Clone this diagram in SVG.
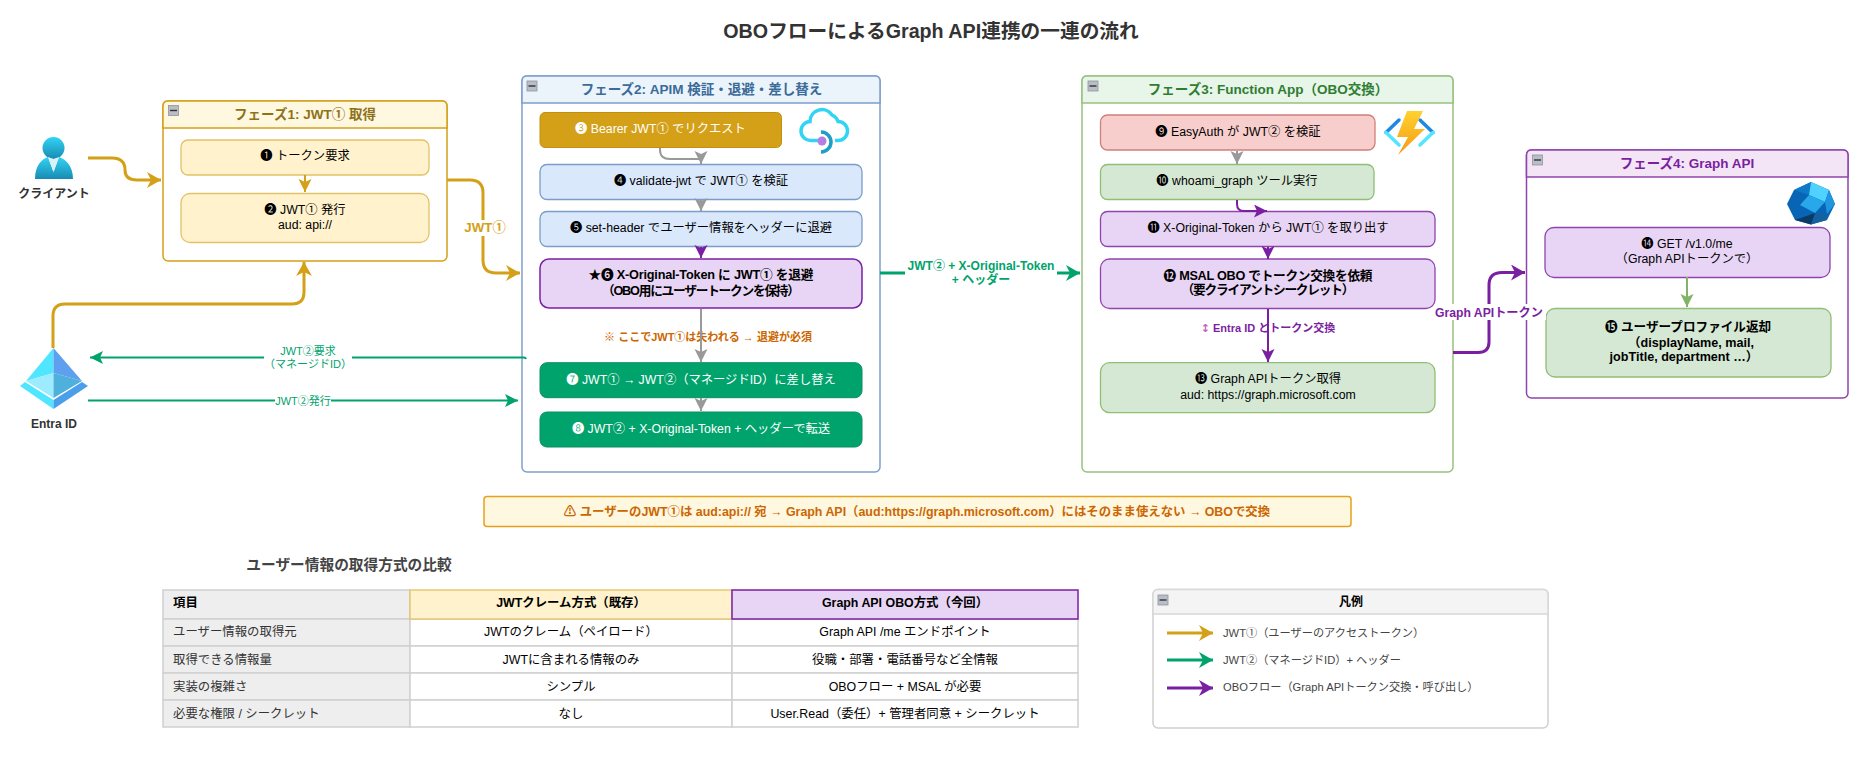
<svg xmlns="http://www.w3.org/2000/svg" width="1871" height="766" viewBox="0 0 1871 766">
<style>
text{font-family:"Liberation Sans","Noto Sans CJK JP",sans-serif;font-size:12.3px;text-anchor:middle;fill:#000}
.b{font-weight:bold}.w{fill:#fff}.t{font-size:13.5px;font-weight:bold}
.tbl{font-size:12.4px}.l{text-anchor:start}
.p1{fill:#fff;stroke:#d4a017;stroke-width:1.5}.p1h{fill:#fff8e1;stroke:#d4a017;stroke-width:1.5}
.p2{fill:#fff;stroke:#7f9fcb;stroke-width:1.5}.p2h{fill:#ebf3fb;stroke:#7f9fcb;stroke-width:1.5}
.p3{fill:#fff;stroke:#97c17e;stroke-width:1.5}.p3h{fill:#e8f5e9;stroke:#97c17e;stroke-width:1.5}
.p4{fill:#fff;stroke:#8e44ad;stroke-width:1.5}.p4h{fill:#f3e5f5;stroke:#8e44ad;stroke-width:1.5}
.y{fill:#fff2cc;stroke:#e2c267;stroke-width:1.3}.bl{fill:#dae8fc;stroke:#7c9cc9;stroke-width:1.3}
.pu{fill:#e8d5f5;stroke:#8e44ad;stroke-width:1.3}.pu2{fill:#e8d5f5;stroke:#7b1fa2;stroke-width:1.5}
.gr{fill:#d5e8d4;stroke:#92bd74;stroke-width:1.3}.re{fill:#f8cecc;stroke:#cf7f7c;stroke-width:1.3}
.g2{fill:#00a36c;stroke:#0b8f62;stroke-width:1}.gd{fill:#d4a017;stroke:#c09010;stroke-width:1}
.c{fill:none;stroke-width:3}.cg{stroke:#d4a017}.cj{stroke:#00a36c}.cp{stroke:#7b1fa2}
.t1{fill:none;stroke-width:2}.lab{fill:#fff}
.cell{fill:#fff;stroke:#d0d0d0;stroke-width:1.5}.cellh{fill:#eeeeee;stroke:#d0d0d0;stroke-width:1.5}
.min{fill:#b9bdc6;stroke:#8f93a0;stroke-width:.8}
</style>
<defs>
<marker id="ag" markerUnits="userSpaceOnUse" markerWidth="16" markerHeight="18" refX="14" refY="8" orient="auto"><path d="M0 0L14 8L0 16L4 8Z" fill="#d4a017"/></marker>
<marker id="aj" markerUnits="userSpaceOnUse" markerWidth="16" markerHeight="18" refX="14" refY="8" orient="auto"><path d="M0 0L14 8L0 16L4 8Z" fill="#00a36c"/></marker>
<marker id="ap" markerUnits="userSpaceOnUse" markerWidth="16" markerHeight="18" refX="14" refY="8" orient="auto"><path d="M0 0L14 8L0 16L4 8Z" fill="#7b1fa2"/></marker>
<marker id="ay" markerUnits="userSpaceOnUse" markerWidth="15" markerHeight="15" refX="13" refY="6.500" orient="auto"><path d="M0 0L13 6.500L0 13L3 6.500Z" fill="#d4a017"/></marker>
<marker id="ae" markerUnits="userSpaceOnUse" markerWidth="15" markerHeight="15" refX="13" refY="6.500" orient="auto"><path d="M0 0L13 6.500L0 13L3 6.500Z" fill="#999"/></marker>
<marker id="aq" markerUnits="userSpaceOnUse" markerWidth="15" markerHeight="15" refX="13" refY="6.500" orient="auto"><path d="M0 0L13 6.500L0 13L3 6.500Z" fill="#7b1fa2"/></marker>
<marker id="aa" markerUnits="userSpaceOnUse" markerWidth="15" markerHeight="15" refX="13" refY="6.500" orient="auto"><path d="M0 0L13 6.500L0 13L3 6.500Z" fill="#82b366"/></marker>
<marker id="as" markerUnits="userSpaceOnUse" markerWidth="15" markerHeight="15" refX="13" refY="6.500" orient="auto"><path d="M0 0L13 6.500L0 13L3 6.500Z" fill="#00a36c"/></marker>
<linearGradient id="person" x1="0" y1="0" x2="0" y2="1"><stop offset="0" stop-color="#32d4f5"/><stop offset="1" stop-color="#198ab3"/></linearGradient>
<linearGradient id="fn" x1="0" y1="0" x2="0" y2="1"><stop offset="0" stop-color="#ffd22e"/><stop offset="1" stop-color="#f59a17"/></linearGradient>
</defs>
<text x="931" y="38" class="b" style="font-size:19.700px;fill:#333">OBOフローによるGraph API連携の一連の流れ</text>
<g id="phase1">
<rect class="p1" x="163" y="101" width="284" height="160" rx="5"/>
<path class="p1h" d="M163 128V106Q163 101 168 101H442Q447 101 447 106V128Z"/>
<rect class="min" x="168.500" y="105.500" width="10" height="10"/><path d="M170 110.500H177" stroke="#333" stroke-width="1.400"/>
<text x="305" y="119" class="t" style="fill:#8f7118">フェーズ1: JWT① 取得</text>
</g>
<g id="n1"><rect class="y" x="181" y="140" width="248" height="35" rx="7"/><text x="305" y="160">❶ トークン要求</text></g>
<g id="n2"><rect class="y" x="181" y="193.500" width="248" height="49" rx="9"/><text x="305" y="214">❷ JWT① 発行</text><text x="305" y="228.500">aud: api://</text></g>
<g id="phase2">
<rect class="p2" x="522" y="76" width="358" height="396" rx="5"/>
<path class="p2h" d="M522 103V81Q522 76 527 76H875Q880 76 880 81V103Z"/>
<rect class="min" x="527" y="81" width="10" height="10"/><path d="M528.500 86H535.500" stroke="#333" stroke-width="1.400"/>
<text x="701.500" y="94" class="t" style="fill:#3a6b99">フェーズ2: APIM 検証・退避・差し替え</text>
</g>
<g id="n3"><rect class="gd" x="540" y="112.500" width="241.500" height="35" rx="5"/><text x="660.500" y="133" class="w">❸ Bearer JWT① でリクエスト</text></g>
<g id="n4"><rect class="bl" x="540" y="164.500" width="322" height="35" rx="7"/><text x="701" y="185">❹ validate-jwt で JWT① を検証</text></g>
<g id="n5"><rect class="bl" x="540" y="211.500" width="322" height="35" rx="7"/><text x="701" y="232">❺ set-header でユーザー情報をヘッダーに退避</text></g>
<g id="n6"><rect class="pu2" x="540" y="259" width="322" height="49" rx="9"/><text x="701" y="279" class="b" style="font-size:12.700px" textLength="225" lengthAdjust="spacing">★❻ X-Original-Token に JWT① を退避</text><text x="701" y="294.500" class="b" style="font-size:12.700px" textLength="198" lengthAdjust="spacing">（OBO用にユーザートークンを保持）</text></g>
<text x="708" y="341" class="b" style="font-size:11px;fill:#cc6600">※ ここでJWT①は失われる → 退避が必須</text>
<g id="n7"><rect class="g2" x="540" y="362.700" width="322" height="35" rx="7"/><text x="701" y="384" class="w">❼ JWT① → JWT②（マネージドID）に差し替え</text></g>
<g id="n8"><rect class="g2" x="540" y="412" width="322" height="35" rx="7"/><text x="701" y="433" class="w">❽ JWT② + X-Original-Token + ヘッダーで転送</text></g>
<g id="phase3">
<rect class="p3" x="1082" y="76" width="371" height="396" rx="5"/>
<path class="p3h" d="M1082 103V81Q1082 76 1087 76H1448Q1453 76 1453 81V103Z"/>
<rect class="min" x="1088" y="81" width="10" height="10"/><path d="M1089.500 86H1096.500" stroke="#333" stroke-width="1.400"/>
<text x="1268" y="94" class="t" style="fill:#2e7d32">フェーズ3: Function App（OBO交換）</text>
</g>
<g id="n9"><rect class="re" x="1100.500" y="115" width="274.500" height="35" rx="7"/><text x="1238" y="136">❾ EasyAuth が JWT② を検証</text></g>
<g id="n10"><rect class="gr" x="1100.500" y="164.500" width="273.500" height="35" rx="7"/><text x="1237" y="185">❿ whoami_graph ツール実行</text></g>
<g id="n11"><rect class="pu" x="1100.500" y="211.500" width="334.500" height="35" rx="7"/><text x="1268" y="232">⓫ X-Original-Token から JWT① を取り出す</text></g>
<g id="n12"><rect class="pu" x="1100.500" y="259" width="334.500" height="49.500" rx="9"/><text x="1268" y="279.500" class="b" style="font-size:12.700px" textLength="209" lengthAdjust="spacing">⓬ MSAL OBO でトークン交換を依頼</text><text x="1268" y="294" class="b" style="font-size:12.700px" textLength="173" lengthAdjust="spacing">（要クライアントシークレット）</text></g>
<text x="1268" y="332" class="b" style="font-size:11px;fill:#7b1fa2"><tspan style="font-family:'DejaVu Sans',sans-serif;fill:#c060c0">↕</tspan> Entra ID とトークン交換</text>
<g id="n13"><rect class="gr" x="1100.500" y="362.700" width="334.500" height="50" rx="9"/><text x="1268" y="383">⓭ Graph APIトークン取得</text><text x="1268" y="398.500">aud: https://graph.microsoft.com</text></g>
<g id="phase4">
<rect class="p4" x="1526.500" y="150" width="321.500" height="248" rx="5"/>
<path class="p4h" d="M1526.500 177V155Q1526.500 150 1531.500 150H1843Q1848 150 1848 155V177Z"/>
<rect class="min" x="1532.500" y="155" width="10" height="10"/><path d="M1534 160H1541" stroke="#333" stroke-width="1.400"/>
<text x="1687" y="168" class="t" style="fill:#7b1fa2">フェーズ4: Graph API</text>
</g>
<g id="n14"><rect class="pu" x="1545" y="227.500" width="285" height="50" rx="9"/><text x="1687" y="248">⓮ GET /v1.0/me</text><text x="1687" y="263">（Graph APIトークンで）</text></g>
<g id="n15"><rect class="gr" x="1546" y="308.500" width="285" height="68.500" rx="9"/><text x="1688" y="331" class="b" style="font-size:12.600px">⓯ ユーザープロファイル返却</text><text x="1691" y="346.500" class="b" style="font-size:12.600px">（displayName, mail,</text><text x="1684" y="361" class="b" style="font-size:12.600px">jobTitle, department …）</text></g>
<g id="client"><circle cx="53.500" cy="148" r="11" fill="url(#person)"/><path d="M35 179C35 165 42 159 48 157L53.500 172L59 157C65 159 73 165 73 179Z" fill="url(#person)"/><path d="M48 157L53.500 159L59 157L53.500 172Z" fill="#d8f2fa"/><text x="54" y="198" class="b" style="fill:#333;font-size:12px">クライアント</text></g>
<g id="entra"><path d="M53.500 348L26 381L53.500 373Z" fill="#50e6ff"/><path d="M53.500 348L82 381L53.500 373Z" fill="#5ea0ef"/><path d="M26 381L53.500 373V398Z" fill="#9cebff"/><path d="M82 381L53.500 373V398Z" fill="#50b0dc"/><path d="M20 386L25 382L53.500 400V409Z" fill="#50e6ff"/><path d="M88 386L82 382L53.500 400V409Z" fill="#4a9eea"/><text x="54" y="428" class="b" style="fill:#333;font-size:12px">Entra ID</text></g>
<g id="apim-icon" fill="none"><path d="M819 140.500H811A9.500 9.500 0 0 1 810 121.500A12 12 0 0 1 832 115A11 11 0 0 1 838 121.500A9.500 9.500 0 0 1 838 140.500H832" stroke="#32d4f5" stroke-width="3.500" stroke-linecap="round"/><path d="M822 131.700A10 10 0 0 1 822 152" stroke="#fff" stroke-width="6"/><path d="M821 132A10 10 0 0 1 821 152" stroke="#1f9fc6" stroke-width="3.500"/><circle cx="822" cy="141" r="4.500" fill="#b77ee0"/></g>
<g id="fn-icon"><path d="M1399 120L1386 132.500" fill="none" stroke="#1e88e5" stroke-width="3.500" stroke-linecap="round"/><path d="M1386 132.500L1399 145" fill="none" stroke="#50e6ff" stroke-width="3.500" stroke-linecap="round"/><path d="M1420 120L1433 132.500" fill="none" stroke="#1e88e5" stroke-width="3.500" stroke-linecap="round"/><path d="M1433 132.500L1420 145" fill="none" stroke="#50e6ff" stroke-width="3.500" stroke-linecap="round"/><path d="M1407 111H1423L1414 129H1425L1398 155L1408 137H1397Z" fill="url(#fn)"/></g>
<g id="graph-icon"><path d="M1811 182L1829 190L1835 204L1827 220L1811 224.500L1795 220L1787 204L1794 190Z" fill="#0864b4"/><path d="M1811 182L1794 190L1809 195Z" fill="#0f78c8"/><path d="M1811 182L1829 190L1825 202L1809 195Z" fill="#4fd2ff"/><path d="M1809 195L1825 202L1815 213L1800 205Z" fill="#28a8ea"/><path d="M1825 202L1829 190L1835 204L1827 214Z" fill="#1f96de"/><path d="M1815 213L1827 214L1827 220L1811 224.500Z" fill="#14619f"/><path d="M1795 220L1815 213L1811 224.500Z" fill="#0c3a67"/></g>
<g id="connectors">
<path class="c cg" marker-end="url(#ag)" d="M88 158H112Q125 158 125 170V170Q125 180 137 180H161"/>
<path class="c cg" d="M447 180H470Q483 180 483 193V260Q483 273 496 273H520" marker-end="url(#ag)"/>
<path class="c cg" marker-end="url(#ag)" d="M53 348V316Q53 304 65 304H292Q304 304 304 292V262"/>
<path class="t1 cj" marker-end="url(#as)" d="M526 359Q525.500 357.500 524 357.500H90"/>
<path class="t1 cj" marker-end="url(#as)" d="M88 400.500H518"/>
<path class="c cj" marker-end="url(#aj)" d="M880 273H1080"/>
<path class="c cp" marker-end="url(#ap)" d="M1453 352.500H1478Q1489 352.500 1489 342V285Q1489 272.500 1502 272.500H1525"/>
<path class="t1 cg" marker-end="url(#ay)" d="M305 175V192"/>
<path class="t1" stroke="#999" marker-end="url(#ae)" d="M660 148V150Q660 159 670 159H701V164"/>
<path class="t1" stroke="#999" marker-end="url(#ae)" d="M701 200V211"/>
<path class="t1" stroke="#7b1fa2" marker-end="url(#aq)" d="M701 247V258"/>
<path class="t1" stroke="#999" marker-end="url(#ae)" d="M701 309V362"/>
<path class="t1" stroke="#999" marker-end="url(#ae)" d="M701 398V411"/>
<path class="t1" stroke="#999" marker-end="url(#ae)" d="M1237 151V164"/>
<path class="t1" stroke="#7b1fa2" marker-end="url(#aq)" d="M1237 200V204Q1237 211 1244 211H1267"/>
<path class="t1" stroke="#7b1fa2" marker-end="url(#aq)" d="M1268 247V259"/>
<path class="t1" stroke="#7b1fa2" marker-end="url(#aq)" d="M1268 309V362"/>
<path class="t1" stroke="#82b366" marker-end="url(#aa)" d="M1687 277V307"/>
</g>
<g id="labels">
<rect x="464" y="220" width="42" height="16" class="lab"/><text x="485" y="232" class="b" style="font-size:13.300px;fill:#d4a017">JWT①</text>
<rect x="264" y="344" width="88" height="28" class="lab"/><text x="308" y="355" style="font-size:11px;fill:#00a36c">JWT②要求</text><text x="308" y="368" style="font-size:11px;fill:#00a36c">（マネージドID）</text>
<rect x="275" y="393" width="56" height="14" class="lab"/><text x="303" y="404.500" style="font-size:11px;fill:#00a36c">JWT②発行</text>
<rect x="905" y="256" width="152" height="34" class="lab"/><text x="981" y="270" class="b" style="font-size:12px;fill:#00a36c">JWT② + X-Original-Token</text><text x="981" y="284" class="b" style="font-size:12px;fill:#00a36c">+ ヘッダー</text>
<rect x="1434" y="304" width="112" height="16" class="lab"/><text x="1489" y="317" class="b" style="font-size:12.200px;fill:#7b1fa2">Graph APIトークン</text>
</g>
<g id="alert"><rect x="484" y="496.500" width="867" height="30" rx="3" fill="#fff8e1" stroke="#e5a11b" stroke-width="1.500"/><text x="917" y="516" class="b" style="font-size:12.400px;fill:#cc6600">⚠ ユーザーのJWT①は aud:api:// 宛 → Graph API（aud:https://graph.microsoft.com）にはそのまま使えない → OBOで交換</text></g>
<g id="table">
<text x="349" y="570" class="b" style="font-size:14.700px;fill:#444">ユーザー情報の取得方式の比較</text>
<rect class="cellh" x="163" y="590" width="247" height="29"/><rect class="cellh" x="163" y="619" width="247" height="27"/><rect class="cellh" x="163" y="646" width="247" height="27"/><rect class="cellh" x="163" y="673" width="247" height="27"/><rect class="cellh" x="163" y="700" width="247" height="27"/>
<rect class="cell" x="410" y="619" width="322" height="27"/><rect class="cell" x="410" y="646" width="322" height="27"/><rect class="cell" x="410" y="673" width="322" height="27"/><rect class="cell" x="410" y="700" width="322" height="27"/>
<rect class="cell" x="732" y="619" width="346" height="27"/><rect class="cell" x="732" y="646" width="346" height="27"/><rect class="cell" x="732" y="673" width="346" height="27"/><rect class="cell" x="732" y="700" width="346" height="27"/>
<rect x="410" y="590" width="322" height="29" fill="#fff2cc" stroke="#e2c267" stroke-width="1.300"/><rect x="732" y="590" width="346" height="29" fill="#e8d5f5" stroke="#7b1fa2" stroke-width="1.500"/>
<text x="173" y="607" class="b tbl l">項目</text><text x="571" y="607" class="b tbl">JWTクレーム方式（既存）</text><text x="905" y="607" class="b tbl">Graph API OBO方式（今回）</text>
<text x="173" y="635.500" class="tbl l" style="fill:#333">ユーザー情報の取得元</text><text x="571" y="635.500" class="tbl">JWTのクレーム（ペイロード）</text><text x="905" y="635.500" class="tbl">Graph API /me エンドポイント</text>
<text x="173" y="663.500" class="tbl l" style="fill:#333">取得できる情報量</text><text x="571" y="663.500" class="tbl">JWTに含まれる情報のみ</text><text x="905" y="663.500" class="tbl">役職・部署・電話番号など全情報</text>
<text x="173" y="690.500" class="tbl l" style="fill:#333">実装の複雑さ</text><text x="571" y="690.500" class="tbl">シンプル</text><text x="905" y="690.500" class="tbl">OBOフロー + MSAL が必要</text>
<text x="173" y="717.500" class="tbl l" style="fill:#333">必要な権限 / シークレット</text><text x="571" y="717.500" class="tbl">なし</text><text x="905" y="717.500" class="tbl">User.Read（委任）+ 管理者同意 + シークレット</text>
</g>
<g id="legend">
<rect x="1153" y="589.500" width="395" height="138.500" rx="5" fill="#fff" stroke="#cfcfcf" stroke-width="1.500"/>
<path d="M1153 614V594.500Q1153 589.500 1158 589.500H1543Q1548 589.500 1548 594.500V614Z" fill="#f4f4f4" stroke="#d8d8d8" stroke-width="1.500"/>
<rect class="min" x="1158" y="595" width="10" height="10"/><path d="M1159.500 600H1166.500" stroke="#333" stroke-width="1.400"/>
<text x="1351" y="605.500" class="b" style="font-size:12px">凡例</text>
<path class="c cg" marker-end="url(#ag)" d="M1167 633H1213"/><path class="c cj" marker-end="url(#aj)" d="M1167 660H1213"/><path class="c cp" marker-end="url(#ap)" d="M1167 688H1213"/>
<text x="1223" y="637" class="l" style="font-size:11.200px;fill:#444">JWT①（ユーザーのアクセストークン）</text>
<text x="1223" y="664" class="l" style="font-size:11.200px;fill:#444">JWT②（マネージドID）+ ヘッダー</text>
<text x="1223" y="691" class="l" style="font-size:11.200px;fill:#444">OBOフロー（Graph APIトークン交換・呼び出し）</text>
</g>
</svg>
